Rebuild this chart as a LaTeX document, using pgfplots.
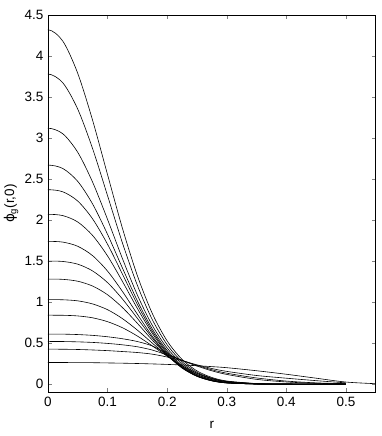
\documentclass[border=0pt]{standalone}
\usepackage{fontspec}
\setmainfont{Liberation Sans}
\newfontfamily\symfont{DejaVu Sans}
\usepackage{pgfplots}
\pgfplotsset{compat=1.18}
\begin{document}
\fontsize{13.5}{16}\selectfont
\begin{tikzpicture}
\begin{axis}[
    at={(0,0)}, anchor=south west,
    scale only axis,
    width=327.7pt, height=377.3pt,
    xmin=0, xmax=0.55,
    ymin=-0.1, ymax=4.5,
    xtick={0,0.1,...,0.5},
    ytick={0,0.5,...,4.5},
    tick align=inside,
    major tick length=4pt,
    axis line style={line width=0.6pt},
    /pgf/number format/assume math mode=true,
    ticklabel style={font=\fontsize{13.5}{16}\selectfont},
    xlabel={r}, ylabel={{\symfont ϕ}\textsubscript{g}(r,0)},
    label style={font=\fontsize{13.5}{16}\selectfont},
    xlabel style={yshift=-5pt},
    ylabel style={yshift=-3pt},
    cycle list={{black, solid, no marks}},
    every axis plot/.append style={line width=0.6pt, smooth},
]
% peak 4.32 (first point mirrored so the top is flat at r=0)
\addplot coordinates {(-0.025,4.180)(0,4.32)(0.025,4.180)(0.05,3.787)(0.075,3.213)(0.1,2.552)(0.125,1.898)(0.15,1.322)(0.175,0.862)(0.2,0.526)(0.225,0.301)(0.25,0.161)(0.275,0.081)(0.3,0.038)(0.35,0.007)(0.4,0.001)(0.45,0)(0.5,0)};
% peak 3.78
\addplot coordinates {(-0.025,3.672)(0,3.78)(0.025,3.672)(0.05,3.351)(0.075,2.868)(0.1,2.296)(0.125,1.720)(0.15,1.204)(0.175,0.787)(0.2,0.48)(0.225,0.273)(0.25,0.145)(0.275,0.072)(0.3,0.033)(0.35,0.006)(0.4,0.001)(0.45,0)(0.5,0)};
% peak 3.12
\addplot coordinates {(-0.025,3.051)(0,3.12)(0.025,3.051)(0.05,2.825)(0.075,2.460)(0.1,2.007)(0.125,1.529)(0.15,1.086)(0.175,0.717)(0.2,0.44)(0.225,0.250)(0.25,0.132)(0.275,0.064)(0.3,0.029)(0.35,0.005)(0.4,0.001)(0.45,0)(0.5,0)};
% peak 2.67
\addplot coordinates {(-0.025,2.628)(0,2.67)(0.025,2.628)(0.05,2.471)(0.075,2.194)(0.1,1.825)(0.125,1.414)(0.15,1.015)(0.175,0.673)(0.2,0.41)(0.225,0.229)(0.25,0.117)(0.275,0.054)(0.3,0.023)(0.35,0.003)(0.4,0)(0.45,0)(0.5,0)};
% peak 2.37
\addplot coordinates {(-0.025,2.344)(0,2.37)(0.025,2.344)(0.05,2.231)(0.075,2.013)(0.1,1.704)(0.125,1.340)(0.15,0.971)(0.175,0.645)(0.2,0.39)(0.225,0.213)(0.25,0.105)(0.275,0.046)(0.3,0.018)(0.35,0.002)(0.4,0)(0.45,0)(0.5,0)};
% peak 2.07
\addplot coordinates {(-0.025,2.054)(0,2.07)(0.025,2.054)(0.05,1.976)(0.075,1.811)(0.1,1.562)(0.125,1.251)(0.15,0.922)(0.175,0.619)(0.2,0.375)(0.225,0.203)(0.25,0.098)(0.275,0.042)(0.3,0.015)(0.35,0.001)(0.4,0)(0.45,0)(0.5,0)};
% peak 1.74
\addplot coordinates {(-0.025,1.731)(0,1.74)(0.025,1.731)(0.05,1.680)(0.075,1.565)(0.1,1.377)(0.125,1.129)(0.15,0.852)(0.175,0.584)(0.2,0.36)(0.225,0.197)(0.25,0.095)(0.275,0.040)(0.3,0.014)(0.35,0.001)(0.4,0)(0.45,0)(0.5,0)};
% peak 1.50
\addplot coordinates {(-0.025,1.495)(0,1.50)(0.025,1.495)(0.05,1.462)(0.075,1.379)(0.1,1.237)(0.125,1.037)(0.15,0.802)(0.175,0.564)(0.2,0.355)(0.225,0.197)(0.25,0.096)(0.275,0.040)(0.3,0.014)(0.35,0.001)(0.4,0)(0.45,0)(0.5,0)};
% peak 1.28
\addplot coordinates {(-0.025,1.277)(0,1.28)(0.025,1.277)(0.05,1.254)(0.075,1.195)(0.1,1.089)(0.125,0.933)(0.15,0.741)(0.175,0.537)(0.2,0.35)(0.225,0.202)(0.25,0.102)(0.275,0.044)(0.3,0.016)(0.35,0.001)(0.4,0)(0.45,0)(0.5,0)};
% peak 1.03
\addplot coordinates {(-0.025,1.028)(0,1.03)(0.025,1.028)(0.05,1.015)(0.075,0.977)(0.1,0.907)(0.125,0.798)(0.15,0.658)(0.175,0.500)(0.2,0.345)(0.225,0.213)(0.25,0.116)(0.275,0.055)(0.3,0.022)(0.35,0.002)(0.4,0)(0.45,0)(0.5,0)};
% peak 0.84
\addplot coordinates {(-0.025,0.839)(0,0.84)(0.025,0.839)(0.05,0.831)(0.075,0.808)(0.1,0.761)(0.125,0.687)(0.15,0.586)(0.175,0.466)(0.2,0.34)(0.225,0.225)(0.25,0.132)(0.275,0.069)(0.3,0.031)(0.35,0.004)(0.4,0)(0.45,0)(0.5,0)};
% peak 0.61
\addplot coordinates {(-0.025,0.609)(0,0.61)(0.025,0.609)(0.05,0.604)(0.075,0.594)(0.1,0.577)(0.125,0.553)(0.15,0.519)(0.175,0.465)(0.2,0.37)(0.225,0.29)(0.25,0.220)(0.275,0.162)(0.3,0.118)(0.35,0.058)(0.4,0.026)(0.45,0.010)(0.5,0.003)};
% peak 0.52
\addplot coordinates {(-0.025,0.519)(0,0.52)(0.025,0.519)(0.05,0.515)(0.075,0.508)(0.1,0.496)(0.125,0.479)(0.15,0.455)(0.175,0.415)(0.2,0.355)(0.225,0.29)(0.25,0.228)(0.275,0.175)(0.3,0.133)(0.35,0.075)(0.4,0.037)(0.45,0.015)(0.5,0.005)};
% peak 0.426
\addplot coordinates {(-0.025,0.425)(0,0.426)(0.025,0.425)(0.05,0.422)(0.075,0.416)(0.1,0.408)(0.125,0.397)(0.15,0.385)(0.175,0.365)(0.2,0.33)(0.225,0.285)(0.25,0.235)(0.275,0.19)(0.3,0.155)(0.35,0.105)(0.4,0.072)(0.45,0.042)(0.5,0.015)};
% peak 0.263, runs on to 0.55
\addplot coordinates {(-0.025,0.263)(0,0.263)(0.025,0.263)(0.05,0.262)(0.075,0.261)(0.1,0.258)(0.125,0.255)(0.15,0.251)(0.175,0.246)(0.2,0.240)(0.225,0.233)(0.25,0.224)(0.275,0.213)(0.3,0.200)(0.35,0.163)(0.4,0.120)(0.45,0.072)(0.5,0.025)(0.55,0.005)};
\end{axis}
\pgfresetboundingbox
\path (-48pt,-43.7pt) rectangle (334pt,392.3pt);
\end{tikzpicture}
\end{document}
